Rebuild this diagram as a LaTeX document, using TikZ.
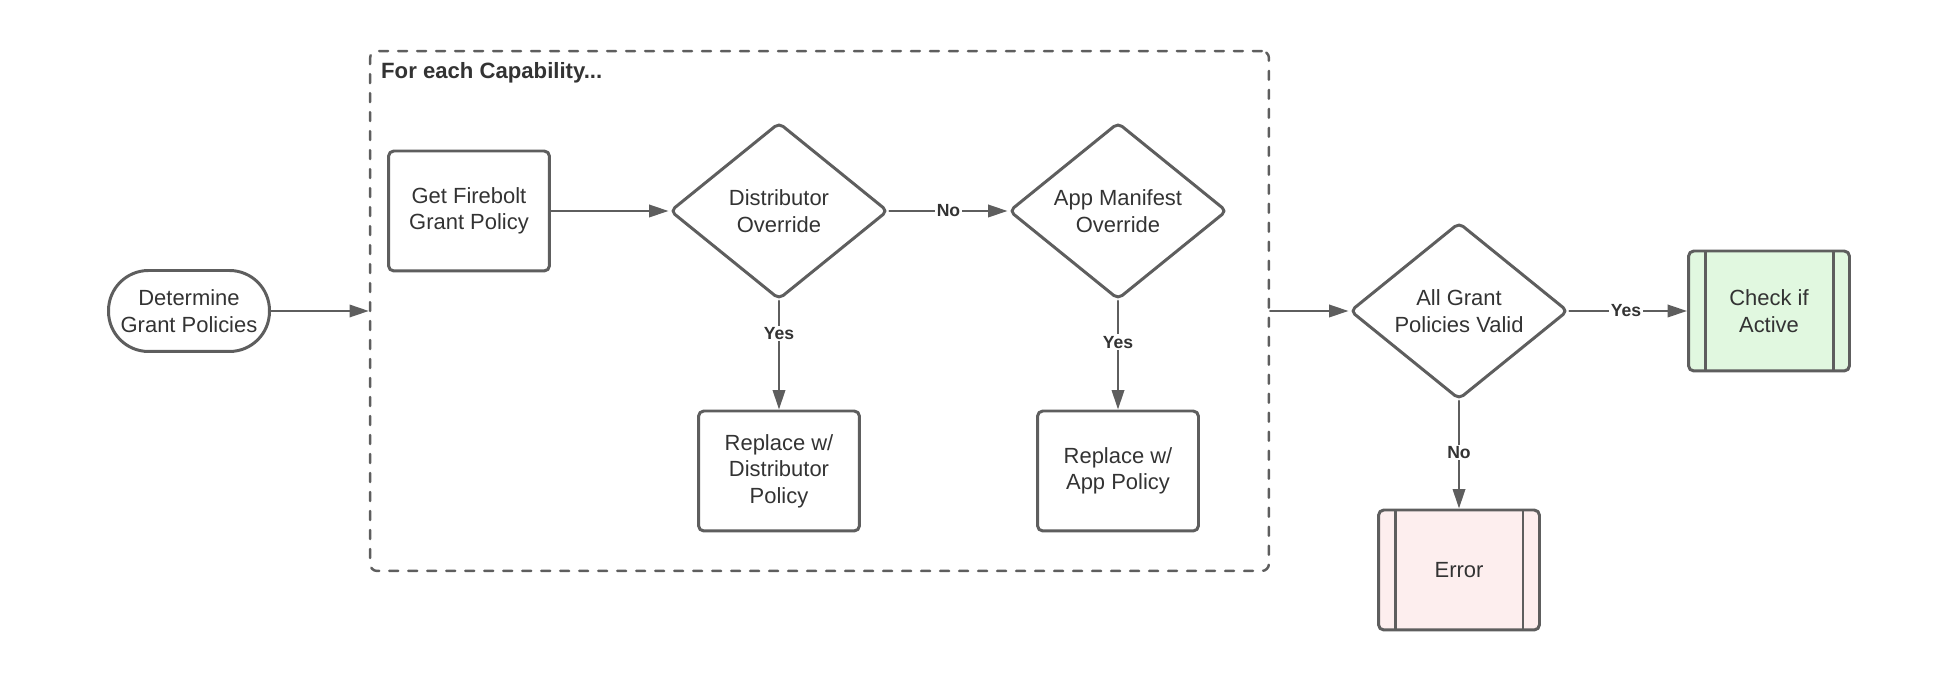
\documentclass[tikz,border=0pt]{standalone}
\usepackage{fontspec}
\setmainfont{Liberation Sans}
\usepackage{tikz}
\usetikzlibrary{shapes.geometric}
\usetikzlibrary{arrows.meta}
\definecolor{dgray}{HTML}{5E5E5E}
\definecolor{txtgray}{HTML}{333333}
\definecolor{lgreen}{HTML}{E1F8E0}
\definecolor{lpink}{HTML}{FDEEEE}
\tikzstyle{every node}=[font=\fontsize{12.5}{15}\selectfont, text=txtgray]

\begin{document}
\begin{tikzpicture}[line cap=round,line join=round,>={Triangle[length=11pt,width=7pt]},x=0.02cm,y=0.02cm,
  box/.style={draw=dgray, line width=1.7pt, rounded corners=3pt, minimum width=3.22cm, minimum height=2.4cm, align=center, inner sep=2pt},
  term/.style={box, rounded corners=0.8cm, minimum height=1.62cm},
  decision/.style={diamond, draw=dgray, line width=1.7pt, rounded corners=3pt, minimum width=4.36cm, minimum height=3.54cm, align=center, inner sep=0pt},
  subproc/.style={box, path picture={
      \draw[dgray, line width=1.7pt] ([xshift=0.33cm]path picture bounding box.north west) -- ([xshift=0.33cm]path picture bounding box.south west);
      \draw[dgray, line width=1.7pt] ([xshift=-0.33cm]path picture bounding box.north east) -- ([xshift=-0.33cm]path picture bounding box.south east);}},
  group/.style={draw=dgray, line width=1.4pt, dash pattern=on 0.18cm off 0.2cm, rounded corners=4pt, minimum width=17.98cm, minimum height=10.4cm},
  arr/.style={->, draw=dgray, line width=1.4pt},
  lbl/.style={font=\bfseries\fontsize{10}{12}\selectfont, fill=white, inner sep=1pt}]
\useasboundingbox (0,0) rectangle (1958,682);

\node[group] (loop) at (819.5,371) {};
\node[anchor=west, font=\bfseries\fontsize{12.6}{15}\selectfont] (title) at (375,609) {For each Capability...};

\node[term] (det) at (189,371) {Determine\\Grant Policies};
\node[box] (get) at (469,471) {Get Firebolt\\Grant Policy};
\node[decision] (dist) at (779,471) {Distributor\\Override};
\node[decision] (app) at (1118,471) {App Manifest\\Override};
\node[box] (repd) at (779,211) {Replace w/\\Distributor\\Policy};
\node[box] (repa) at (1118,211) {Replace w/\\App Policy};
\node[decision] (valid) at (1459,371) {All Grant\\Policies Valid};
\node[subproc, fill=lgreen] (check) at (1769,371) {Check if\\Active};
\node[subproc, fill=lpink] (err) at (1459,112) {Error};

\draw[arr] (det.east) -- (loop.west);
\draw[arr] (get.east) -- (dist.west);
\draw[arr] (dist.east) -- node[lbl]{No} (app.west);
\draw[arr] (dist.south) -- node[lbl,pos=0.3]{Yes} (repd.north);
\draw[arr] (app.south) -- node[lbl,pos=0.38]{Yes} (repa.north);
\draw[arr] (loop.east) -- (valid.west);
\draw[arr] (valid.east) -- node[lbl,pos=0.48]{Yes} (check.west);
\draw[arr] (valid.south) -- node[lbl,pos=0.48]{No} (err.north);
\end{tikzpicture}
\end{document}
